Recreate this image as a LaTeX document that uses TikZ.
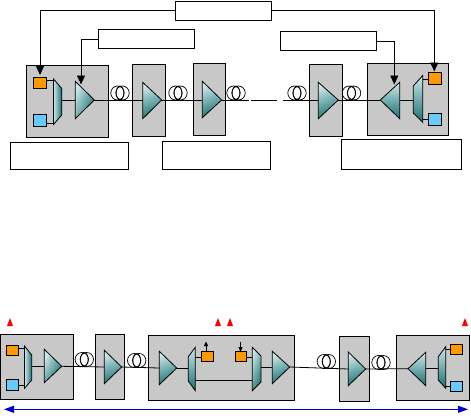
\documentclass[tikz,border=0pt]{standalone}
\usetikzlibrary{arrows.meta}
\definecolor{graybox}{RGB}{200,200,200}
\definecolor{orangebox}{RGB}{255,153,0}
\definecolor{bluebox}{RGB}{102,204,255}
\definecolor{tealdark}{RGB}{25,112,115}
\definecolor{teallight}{RGB}{205,232,232}
\definecolor{linkblue}{RGB}{0,0,204}
\tikzset{
  x=1pt,y=-1pt,
  rectbase/.style={rectangle,inner sep=0pt,outer sep=0pt,anchor=north west},
  labelbox/.style={rectbase,draw=black,fill=white,line width=0.9pt},
  site/.style={rectbase,draw=black,fill=graybox,line width=0.8pt},
  ochan/.style={rectbase,draw=black,fill=orangebox,line width=0.8pt},
  bchan/.style={rectbase,draw=black,fill=bluebox,line width=0.8pt},
  optic/.style={draw=black,line width=0.8pt,top color=teallight,bottom color=tealdark,shading angle=#1},
  mgmt/.style={draw=black,line width=0.9pt,-{Triangle[length=9pt,width=8pt]}},
  minor/.style={draw=black,line width=0.8pt,-{Triangle[length=4.5pt,width=4pt]}},
  fibre/.style={draw=black,line width=0.8pt},
  marker/.style={fill=red,draw=none},
  span/.style={draw=linkblue,line width=0.9pt,{Triangle[length=10pt,width=7pt]}-{Triangle[length=10pt,width=7pt]}}
}
% \bx{name}{style}{x1}{y1}{x2}{y2}
\newcommand{\bx}[6]{%
  \pgfmathsetmacro{\bw}{#5-#3}\pgfmathsetmacro{\bh}{#6-#4}%
  \node[#2,minimum width=\bw pt,minimum height=\bh pt] (#1) at (#3,#4) {};}
% \opamp{name}{xbase}{xtip}{ytop}{ybottom}{ytip}{angle}
\newcommand{\opamp}[7]{%
  \path[optic=#7] (#2,#4) -- (#3,#6) -- (#2,#5) -- cycle;
  \coordinate (#1-b) at (#2,#6);\coordinate (#1-t) at (#3,#6);}
% \opmux{name}{xl}{xr}{yl1}{yl2}{yr1}{yr2}{ymid}{angle}
\newcommand{\opmux}[9]{%
  \path[optic=#9] (#2,#4) -- (#3,#6) -- (#3,#7) -- (#2,#5) -- cycle;
  \coordinate (#1-l) at (#2,#8);\coordinate (#1-r) at (#3,#8);}
% \coil{x}{ybottom}
\newcommand{\coil}[2]{%
  \draw[line width=0.7pt] (#1-2.5,#2-7) circle[x radius=6.7,y radius=7];
  \draw[line width=0.7pt] (#1+2.5,#2-7) circle[x radius=6.7,y radius=7];
  \draw[line width=0.7pt] (#1,#2-7) circle[x radius=3.8,y radius=7];}
\newcommand{\tickmark}[1]{\path[marker] (#1-3,326) -- (#1,318) -- (#1+3,326) -- cycle;}
\begin{document}
\begin{tikzpicture}
\useasboundingbox (0,0) rectangle (471,415);
% ---- upper chain
\bx{top}{labelbox}{175.5}{1}{271}{20.5}
\bx{ctlL}{labelbox}{98.7}{29.5}{194.7}{48.7}
\bx{ctlR}{labelbox}{280.5}{31.5}{376}{50.5}
\bx{noteA}{labelbox}{10.3}{142.7}{128.3}{169.3}
\bx{noteB}{labelbox}{162.3}{141.3}{270.3}{169.3}
\bx{noteC}{labelbox}{341.3}{139.5}{461.7}{169.3}
\bx{s1}{site}{26.7}{65}{108}{137}
\bx{s2}{site}{132.7}{64}{165.3}{136}
\bx{s3}{site}{193.3}{63.5}{225.3}{135}
\bx{s4}{site}{309.3}{64}{342}{136}
\bx{s5}{site}{367.3}{63.5}{448.3}{135.5}
\bx{o1}{ochan}{33.5}{77}{46.7}{88.3}
\bx{c1}{bchan}{33.5}{114.7}{46.7}{126.7}
\bx{o2}{ochan}{428.3}{72.3}{441.7}{84.3}
\bx{c2}{bchan}{428.3}{113.3}{441.7}{125.7}
\opmux{m1}{53.5}{61.7}{79}{124.5}{88.5}{115}{100}{90}
\opmux{m2}{413.3}{422.7}{86}{113}{75.5}{122.3}{100}{0}
\opamp{a1}{75.3}{94.3}{81.3}{118.7}{100}{65}
\opamp{a2}{142.7}{161.7}{82.3}{118.7}{100}{20}
\opamp{a3}{202.3}{221.7}{81.3}{117.7}{100}{20}
\opamp{a4}{318.3}{338.3}{82.3}{118.7}{100}{20}
\opamp{a5}{399.7}{380.3}{82.3}{118.7}{100}{0}
\coil{120}{100}
\coil{178}{100}
\coil{236}{100}
\coil{297}{100}
\coil{351.5}{100}
\coordinate (breakL) at (249,100);
\coordinate (breakLb) at (251,100);
\coordinate (breakRb) at (277,100);
\coordinate (breakR) at (283,100);
\coordinate (m1a) at (54.5,80);\coordinate (m1c) at (54.5,123.3);
\coordinate (m2a) at (422.7,79.3);\coordinate (m2c) at (422.7,119);
\draw[fibre] (m1-r) -- (a1-b);
\draw[fibre] (a1-t) -- (a2-b);
\draw[fibre] (a2-t) -- (a3-b);
\draw[fibre] (a3-t) -- (breakL);
\draw[fibre] (breakLb) -- (breakRb);
\draw[fibre] (breakR) -- (a4-b);
\draw[fibre] (a4-t) -- (a5-t);
\draw[fibre] (a5-b) -- (m2-l);
\draw[fibre] (o1.east |- m1a) -- (m1a);
\draw[fibre] (c1.east |- m1c) -- (m1c);
\draw[fibre] (m2a) -- (o2.west |- m2a);
\draw[fibre] (m2c) -- (c2.west |- m2c);
\coordinate (a1up) at (81,84.5);
\coordinate (a5up) at (394.3,84.5);
\coordinate (o1up) at (40,75);
\coordinate (o2up) at (434.3,71.5);
\draw[mgmt] (top.west) -| (o1up);
\draw[mgmt] (top.east) -| (o2up);
\draw[mgmt] (ctlL.west) -| (a1up);
\draw[mgmt] (ctlR.east) -| (a5up);
% ---- lower chain
\bx{t1}{site}{0.5}{334.3}{73.3}{399.3}
\bx{t2}{site}{95.7}{334.3}{124.7}{399.3}
\bx{t3}{site}{148.3}{335.3}{294}{400.3}
\bx{t4}{site}{339.3}{336.3}{369}{401.3}
\bx{t5}{site}{396.7}{335.3}{469.7}{400.3}
\bx{p1}{ochan}{6.3}{345.7}{18.3}{355.3}
\bx{q1}{bchan}{6.3}{379.7}{18.3}{390}
\bx{p2}{ochan}{201.7}{351.7}{213.3}{361.3}
\bx{p3}{ochan}{235.3}{351.7}{246.7}{361.3}
\bx{p4}{ochan}{450.7}{344}{462.7}{354.7}
\bx{q4}{bchan}{450.7}{381}{462.7}{391.7}
\opmux{n1}{24.5}{31.7}{346}{388.3}{355}{380}{366.3}{90}
\opmux{n2}{188.3}{195.3}{356.7}{381}{347.3}{390.7}{368}{0}
\opmux{n3}{252.3}{261}{347.3}{390.7}{356}{382}{367}{70}
\opmux{n4}{438.3}{445.7}{356.7}{380}{346.7}{388.3}{368.7}{0}
\opamp{b1}{44.3}{61.7}{349.3}{382.7}{366.3}{60}
\opamp{b2}{104.3}{121.7}{350.3}{383.7}{367}{20}
\opamp{b3}{159.3}{176.7}{351.3}{384.7}{368}{20}
\opamp{b4}{272.3}{289.7}{351.3}{383.7}{367}{20}
\opamp{b5}{348.3}{365.7}{352}{385.7}{369}{20}
\opamp{b6}{425.7}{408}{352.3}{385.7}{368.7}{0}
\coil{84.3}{366.5}
\coil{136.7}{367.5}
\coil{326.3}{368.5}
\coil{381}{369.5}
\coordinate (n1a) at (25,348);\coordinate (n1c) at (25,385.5);
\coordinate (n2a) at (195.3,357);\coordinate (n2c) at (195.3,380.3);
\coordinate (n3a) at (252.3,357);\coordinate (n3c) at (252.3,380.3);
\coordinate (n4a) at (445.7,349);\coordinate (n4c) at (445.7,386);
\draw[fibre] (n1-r) -- (b1-b);
\draw[fibre] (b1-t) -- (b2-b);
\draw[fibre] (b2-t) -- (b3-b);
\draw[fibre] (b3-t) -- (n2-l);
\draw[fibre] (n3-r) -- (b4-b);
\draw[fibre] (b4-t) -- (b5-b);
\draw[fibre] (b5-t) -- (b6-t);
\draw[fibre] (b6-b) -- (n4-l);
\draw[fibre] (n2c) -- (n3c);
\draw[fibre] (n2a) -- (p2.west |- n2a);
\draw[fibre] (p3.east |- n3a) -- (n3a);
\draw[fibre] (p1.east |- n1a) -- (n1a);
\draw[fibre] (q1.east |- n1c) -- (n1c);
\draw[fibre] (n4a) -- (p4.west |- n4a);
\draw[fibre] (n4c) -- (q4.west |- n4c);
\coordinate (p2base) at (206,351.7);\coordinate (p2tip) at (206,341.5);
\coordinate (p3base) at (240.5,351.7);\coordinate (p3tip) at (240.5,341.5);
\draw[minor] (p2base) -- (p2tip);
\draw[minor] (p3tip) -- (p3base);
\tickmark{10}
\tickmark{218}
\tickmark{230}
\tickmark{465}
\coordinate (spanL) at (4,409.3);
\coordinate (spanR) at (468,409.3);
\draw[span] (spanL) -- (spanR);
\end{tikzpicture}
\end{document}
